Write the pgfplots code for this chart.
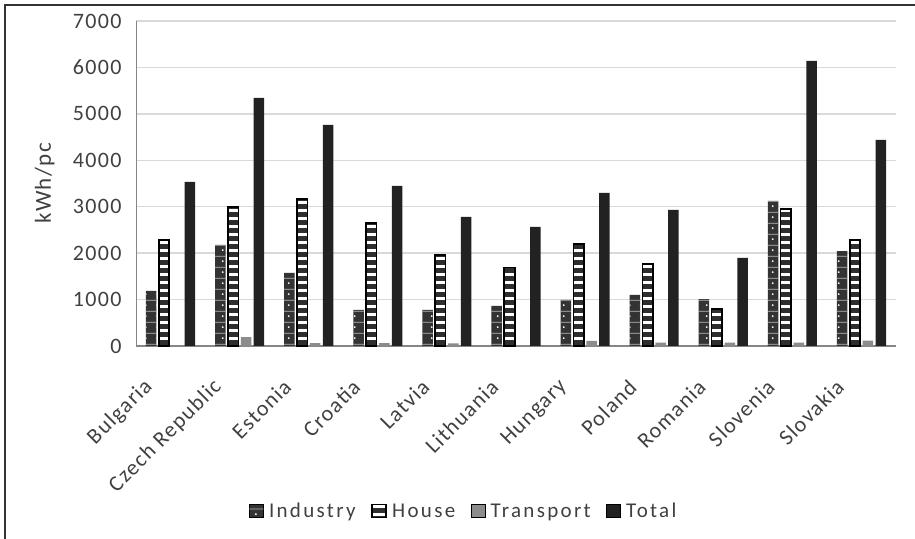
\documentclass[border=0pt]{standalone}
\usepackage{fontspec}
\setmainfont{Carlito}[LetterSpace=6]
\newfontfamily\legfont{Carlito}[LetterSpace=11]
\usepackage{pgfplots}
\pgfplotsset{compat=1.18}
\usetikzlibrary{patterns.meta}

\definecolor{indcol}{HTML}{333333}
\definecolor{housecol}{HTML}{2E2E2E}
\definecolor{transcol}{HTML}{8C8C8C}
\definecolor{totcol}{HTML}{222222}
\definecolor{txtcol}{HTML}{404040}
\definecolor{gridcol}{HTML}{D9D9D9}
\definecolor{axcol}{HTML}{868686}

% brick-like texture: a white dot and a thin light joint per tile
\tikzdeclarepattern{
  name=brickdots,
  type=colored,
  bounding box={(0bp,0bp) and (11bp,11bp)},
  tile size={(11bp,11bp)},
  code={
    \fill[white] (3bp,3bp) circle (1.1bp);
    \fill[gray!55] (0bp,8bp) rectangle (11bp,8.8bp);
  }
}

% per capita electricity use, kWh
\pgfplotstableread{
x industry house transport total
0  1185 2285  10 3534
1  2180 2995 192 5345
2  1573 3165  62 4760
3   778 2645  60 3448
4   778 1965  58 2780
5   862 1690  20 2565
6   995 2200 108 3297
7  1100 1760  70 2930
8  1010  800  70 1900
9  3125 2945  70 6140
10 2045 2280 115 4440
}\datatable

\tikzset{
  industrybar/.style={fill=indcol, draw=none, postaction={pattern=brickdots}},
  housebar/.style={preaction={fill=housecol},
    pattern={Lines[distance=8bp,angle=0,line width=3bp]}, pattern color=white,
    draw=black, line width=1.6bp},
  transbar/.style={fill=transcol, draw=none},
  totbar/.style={fill=totcol, draw=none},
}

\begin{document}
\begin{tikzpicture}[x=1bp,y=1bp]
\path[use as bounding box] (0,0) rectangle (915,539);
\draw[color=indcol, line width=1.5bp] (5,0) -- (5,534) -- (915,534);
\begin{axis}[
  at={(136bp,193bp)}, anchor=south west,
  scale only axis, width=760bp, height=325bp,
  ybar, bar width=10.5bp,
  xmin=-0.5, xmax=10.5,
  ymin=0, ymax=7000,
  ytick={0,1000,...,7000},
  xtick=data,
  xticklabels={Bulgaria,Czech Republic,Estonia,Croatia,Latvia,Lithuania,Hungary,Poland,Romania,Slovenia,Slovakia},
  axis lines=left,
  axis line style={draw=axcol, line width=1bp},
  x axis line style={line width=2bp, -},
  y axis line style={-},
  major tick length=0pt,
  ymajorgrids,
  grid style={draw=gridcol, line width=1.5bp},
  /pgf/number format/assume math mode=true,
  /pgf/number format/1000 sep={},
  tick label style={font=\fontsize{22bp}{26bp}\selectfont, text=txtcol},
  yticklabel style={xshift=-11bp},
  xticklabel style={xshift=-19bp, yshift=-35bp, rotate=45, anchor=east},
  ylabel={kWh/pc},
  ylabel style={font=\fontsize{23bp}{27bp}\selectfont, text=txtcol, at={(axis description cs:-0.12,0.5)}, anchor=center},
  legend columns=4,
  legend style={at={(axis description cs:0.431,-0.508)}, anchor=center, draw=none, fill=none,
    font=\legfont\fontsize{21bp}{25bp}\selectfont, text=txtcol,
    nodes={inner xsep=1.5bp},
    /tikz/every odd column/.append style={column sep=4bp},
    /tikz/every even column/.append style={column sep=14bp},
    inner sep=0pt},
  legend image code/.code={\draw[#1] (0bp,-6.5bp) rectangle (14bp,6.5bp);},
  clip=false,
]
\addplot[industrybar, bar shift=-19.3bp] table[x=x, y=industry] {\datatable};
\addplot[housebar, bar shift=-6.5bp] table[x=x, y=house] {\datatable};
\addplot[transbar, bar shift=6.5bp] table[x=x, y=transport] {\datatable};
\addplot[totbar, bar shift=19.3bp] table[x=x, y=total] {\datatable};
\legend{Industry, House, Transport, Total}
\end{axis}
\end{tikzpicture}
\end{document}
